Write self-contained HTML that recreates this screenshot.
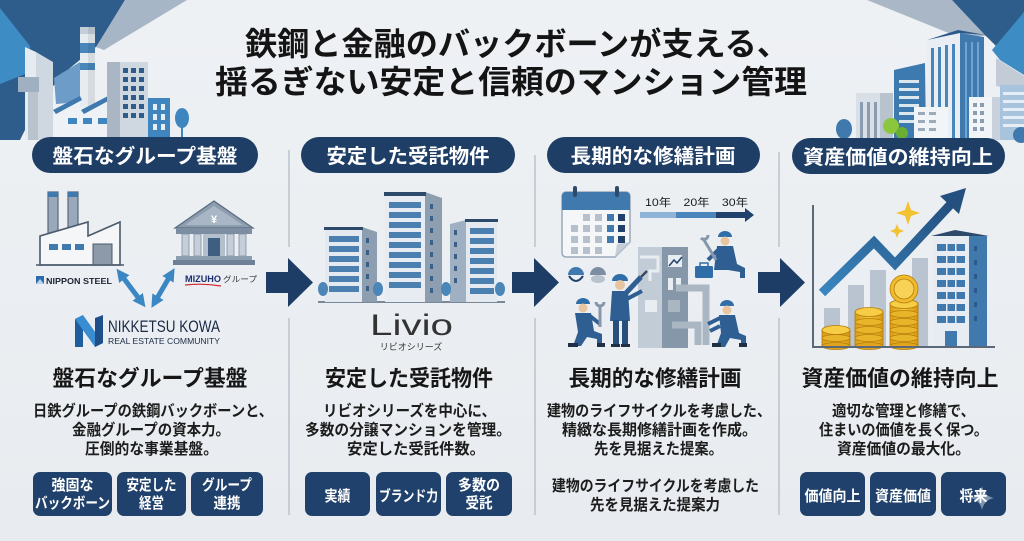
<!DOCTYPE html>
<html><head><meta charset="utf-8">
<style>
html,body{margin:0;padding:0;background:#edf0f4;width:1024px;height:541px;overflow:hidden;}
svg{display:block;}
text{font-family:"Liberation Sans","Noto Sans CJK JP",sans-serif;}
</style></head><body>
<svg width="1024" height="541" viewBox="0 0 1024 541" xmlns="http://www.w3.org/2000/svg">
<defs>
<linearGradient id="bg" x1="0" y1="0" x2="0" y2="1"><stop offset="0" stop-color="#eef1f4"/><stop offset="1" stop-color="#e8ecf0"/></linearGradient>
<linearGradient id="zz" x1="0" y1="1" x2="1" y2="0"><stop offset="0" stop-color="#3a86c0"/><stop offset="1" stop-color="#24507f"/></linearGradient>
<linearGradient id="coin" x1="0" y1="0" x2="1" y2="0"><stop offset="0" stop-color="#d99a12"/><stop offset=".5" stop-color="#f6cd45"/><stop offset="1" stop-color="#d5940e"/></linearGradient>
<marker id="ah" viewBox="0 0 10 10" refX="3" refY="5" markerWidth="2.6" markerHeight="2.6" orient="auto-start-reverse"><path d="M0,0 L10,5 L0,10 z" fill="#3b87c3"/></marker>
</defs>
<rect width="1024" height="541" fill="url(#bg)"/>

<!-- ===== top-left decoration ===== -->
<polygon points="0,0 125,0 97,46 70,68 40,100 20,140 0,140" fill="#2e5d8c"/>
<polygon points="0,8 30,46 30,72 0,84" fill="#3d8cc4"/>
<polygon points="125,0 187,0 104,50 96,47" fill="#a7b6c6"/>
<polygon points="54,78 80,62 80,102 56,104" fill="#6d9cc8"/>
<polygon points="25,47 36,52 36,140 25,140" fill="#e6ebf0"/>
<polygon points="36,52 53,62 53,140 36,140" fill="#cfd7e0"/>
<rect x="18" y="77" width="21" height="15" fill="#9fb0c2"/>
<rect x="28" y="92" width="10" height="48" fill="#b8c3ce"/>
<!-- chimney -->
<rect x="80" y="27" width="15" height="80" fill="#e7ecf1"/>
<rect x="80" y="27" width="15" height="7" fill="#c4ced8"/>
<rect x="80" y="43" width="15" height="10" fill="#4a86bc"/>
<rect x="80" y="63" width="15" height="7" fill="#4a86bc"/>
<rect x="88" y="27" width="7" height="80" fill="#000" opacity=".07"/>
<!-- factory -->
<polygon points="54,140 54,110 80,97 80,110 108,97 108,140" fill="#eef2f6"/>
<polygon points="53,110 80,96 82,100 56,114" fill="#3f79ad"/>
<polygon points="81,110 108,96 110,100 84,114" fill="#3f79ad"/>
<rect x="68" y="118" width="9" height="6" fill="#3f86c0"/>
<rect x="83" y="118" width="9" height="6" fill="#3f86c0"/>
<rect x="98" y="118" width="9" height="6" fill="#3f86c0"/>
<!-- grey tower -->
<rect x="107" y="62" width="14" height="78" fill="#aab6c3"/>
<rect x="120" y="62" width="28" height="78" fill="#cfd7e0"/>
<g fill="#2e5d8c">
<rect x="123" y="68" width="5" height="5"/><rect x="131" y="68" width="5" height="5"/><rect x="139" y="68" width="5" height="5"/>
<rect x="123" y="77" width="5" height="5"/><rect x="131" y="77" width="5" height="5"/><rect x="139" y="77" width="5" height="5"/>
<rect x="123" y="86" width="5" height="5"/><rect x="131" y="86" width="5" height="5"/><rect x="139" y="86" width="5" height="5"/>
<rect x="123" y="95" width="5" height="5"/><rect x="131" y="95" width="5" height="5"/><rect x="139" y="95" width="5" height="5"/>
<rect x="123" y="104" width="5" height="5"/><rect x="131" y="104" width="5" height="5"/><rect x="139" y="104" width="5" height="5"/>
<rect x="123" y="113" width="5" height="5"/><rect x="131" y="113" width="5" height="5"/><rect x="139" y="113" width="5" height="5"/>
</g>
<rect x="148" y="98" width="22" height="42" fill="#3f86c0"/>
<g fill="#e8eef4">
<rect x="153" y="104" width="4" height="6"/><rect x="161" y="104" width="4" height="6"/>
<rect x="153" y="114" width="4" height="6"/><rect x="161" y="114" width="4" height="6"/>
<rect x="153" y="124" width="4" height="6"/><rect x="161" y="124" width="4" height="6"/>
</g>
<rect x="181" y="124" width="2" height="16" fill="#3f86c0"/>
<ellipse cx="182" cy="118" rx="7" ry="10" fill="#3f86c0"/>

<!-- ===== top-right decoration ===== -->
<polygon points="867,0 952,0 990,36 956,36" fill="#a9b7c6"/>
<polygon points="952,0 1024,0 1024,12 1000,50 985,35" fill="#2e5d8c"/>
<polygon points="1024,12 1024,75 1000,60 992,50" fill="#3d8cc4"/>
<polygon points="996,58 1024,76 1024,92 996,86" fill="#c3ccd6"/>
<!-- grey building -->
<rect x="856" y="93" width="37" height="47" fill="#d9dfe6"/>
<rect x="880" y="93" width="13" height="47" fill="#b9c3ce"/>
<g fill="#8b9cb0"><rect x="860" y="102" width="3" height="38"/><rect x="867" y="102" width="3" height="38"/><rect x="874" y="102" width="3" height="38"/></g>
<!-- blue building -->
<polygon points="894,70 925,63 926,140 894,140" fill="#3d7ab0"/>
<g fill="#dde6ef"><rect x="899" y="80" width="20" height="3"/><rect x="899" y="88" width="20" height="3"/><rect x="899" y="96" width="20" height="3"/><rect x="899" y="104" width="20" height="3"/><rect x="899" y="112" width="20" height="3"/><rect x="899" y="120" width="20" height="3"/></g>
<!-- tall building -->
<polygon points="927,40 960,33 960,140 927,140" fill="#e8eef4"/>
<polygon points="960,33 984,37 984,140 960,140" fill="#3f79ad"/>
<polygon points="927,40 958,30 986,35 960,33" fill="#2b5a8a"/>
<g fill="#4a86bc"><rect x="931" y="48" width="3" height="92"/><rect x="938" y="47" width="3" height="93"/><rect x="945" y="45" width="3" height="95"/><rect x="952" y="44" width="3" height="96"/></g>
<g fill="#6fa3d2"><rect x="965" y="42" width="2" height="98"/><rect x="971" y="42" width="2" height="98"/><rect x="977" y="42" width="2" height="98"/></g>
<!-- white building front -->
<rect x="914" y="107" width="34" height="33" fill="#f2f5f8"/>
<g fill="#9aabbd"><rect x="918" y="112" width="7" height="3"/><rect x="929" y="112" width="7" height="3"/><rect x="918" y="120" width="7" height="3"/><rect x="929" y="120" width="7" height="3"/><rect x="918" y="128" width="7" height="3"/><rect x="929" y="128" width="7" height="3"/></g>
<rect x="969" y="97" width="31" height="43" fill="#f2f5f8"/>
<rect x="992" y="97" width="8" height="43" fill="#c9d2dc"/>
<g fill="#8b9cb0"><rect x="973" y="103" width="4" height="4"/><rect x="980" y="103" width="4" height="4"/><rect x="973" y="111" width="4" height="4"/><rect x="980" y="111" width="4" height="4"/><rect x="973" y="119" width="4" height="4"/><rect x="980" y="119" width="4" height="4"/><rect x="973" y="127" width="4" height="4"/><rect x="980" y="127" width="4" height="4"/></g>
<rect x="1000" y="85" width="24" height="55" fill="#a8c3dc"/>
<g fill="#e6edf4"><rect x="1003" y="92" width="21" height="3"/><rect x="1003" y="100" width="21" height="3"/><rect x="1003" y="108" width="21" height="3"/><rect x="1003" y="116" width="21" height="3"/><rect x="1003" y="124" width="21" height="3"/></g>
<ellipse cx="844" cy="129" rx="8" ry="10" fill="#3f79ad"/>
<circle cx="891" cy="126" r="8" fill="#8cc63f"/>
<circle cx="902" cy="133" r="6" fill="#6aae34"/>
<circle cx="1021" cy="135" r="8" fill="#3f79ad"/>

<!-- ===== title ===== -->
<text x="245" y="55" font-size="32" font-weight="700" fill="#141414" textLength="544" lengthAdjust="spacingAndGlyphs">鉄鋼と金融のバックボーンが支える、</text>
<text x="215" y="93" font-size="32" font-weight="700" fill="#141414" textLength="592" lengthAdjust="spacingAndGlyphs">揺るぎない安定と信頼のマンション管理</text>

<!-- ===== pills ===== -->
<g fill="#1f3e66">
<rect x="32" y="137" width="226" height="36" rx="18"/>
<rect x="301" y="137" width="214" height="36" rx="18"/>
<rect x="547" y="137" width="213" height="36" rx="18"/>
<rect x="792" y="138" width="213" height="36" rx="18"/>
</g>
<g fill="#ffffff" font-size="20" font-weight="700" text-anchor="middle">
<text x="145" y="163" textLength="185" lengthAdjust="spacingAndGlyphs">盤石なグループ基盤</text>
<text x="408" y="163" textLength="163" lengthAdjust="spacingAndGlyphs">安定した受託物件</text>
<text x="653" y="163" textLength="165" lengthAdjust="spacingAndGlyphs">長期的な修繕計画</text>
<text x="898" y="164" textLength="190" lengthAdjust="spacingAndGlyphs">資産価値の維持向上</text>
</g>

<!-- ===== separators ===== -->
<g stroke="#b9c3cd" stroke-width="1.5">
<line x1="289" y1="150" x2="289" y2="247"/><line x1="289" y1="318" x2="289" y2="515"/>
<line x1="535" y1="155" x2="535" y2="247"/><line x1="535" y1="318" x2="535" y2="515"/>
<line x1="779" y1="152" x2="779" y2="247"/><line x1="779" y1="318" x2="779" y2="515"/>
</g>

<!-- ===== big arrows ===== -->
<g fill="#1e3d66">
<polygon points="266,272 288,272 288,258 313,282.5 288,307 288,293 266,293"/>
<polygon points="512,272 534,272 534,258 559,282.5 534,307 534,293 512,293"/>
<polygon points="758,272 780,272 780,258 805,282.5 780,307 780,293 758,293"/>
</g>

<!-- ===== column 1 icons ===== -->
<!-- factory -->
<rect x="48" y="192" width="10" height="42" fill="#9aa9b9" stroke="#56667a" stroke-width="1.2"/>
<rect x="68" y="192" width="10" height="42" fill="#9aa9b9" stroke="#56667a" stroke-width="1.2"/>
<rect x="48" y="192" width="10" height="5" fill="#3f79ad"/>
<rect x="68" y="192" width="10" height="5" fill="#3f79ad"/>
<polygon points="40,265 40,236 88,222 88,236 120,222 120,265" fill="#f4f6f8" stroke="#4a5a6c" stroke-width="1.6"/>
<rect x="49" y="244" width="9" height="6" fill="#3f79ad"/>
<rect x="62" y="244" width="9" height="6" fill="#3f79ad"/>
<rect x="75" y="244" width="9" height="6" fill="#3f79ad"/>
<rect x="93" y="244" width="19" height="21" fill="#8c9aaa" stroke="#4a5a6c" stroke-width="1"/>
<line x1="36" y1="265" x2="124" y2="265" stroke="#4a5a6c" stroke-width="1.6"/>
<polygon points="36,276 44,276 44,284 36,284" fill="#2b6cb0"/>
<polygon points="36,284 40,279 44,284" fill="#ffffff" opacity=".7"/>
<text x="46" y="284" font-size="8.5" font-weight="700" fill="#1c2433" textLength="66" lengthAdjust="spacingAndGlyphs">NIPPON STEEL</text>
<!-- bank -->
<polygon points="175,228 214,201 253,228" fill="#8d9db0" stroke="#5a6a7e" stroke-width="1.2"/>
<polygon points="185,225 214,206 243,225" fill="#a9b6c5"/>
<text x="214" y="223" font-size="11" font-weight="700" fill="#ffffff" text-anchor="middle">¥</text>
<rect x="176" y="228" width="76" height="6" fill="#7d8ea3"/>
<g fill="#c6cfd9" stroke="#7d8ea3" stroke-width=".8">
<rect x="182" y="234" width="7" height="22"/><rect x="194" y="234" width="7" height="22"/>
<rect x="227" y="234" width="7" height="22"/><rect x="239" y="234" width="7" height="22"/>
</g>
<rect x="203" y="234" width="22" height="22" fill="#b3bfcc"/>
<rect x="208" y="238" width="12" height="18" fill="#3f5f80"/>
<rect x="176" y="256" width="76" height="4" fill="#8d9db0"/>
<rect x="173" y="260" width="82" height="5" fill="#6e8096"/>
<text x="185" y="282" font-size="9" font-weight="700" fill="#1c2f6e" textLength="36" lengthAdjust="spacingAndGlyphs">MIZUHO</text>
<text x="223" y="282" font-size="8" fill="#333" textLength="34" lengthAdjust="spacingAndGlyphs">グループ</text>
<path d="M185,285 Q203,283 221,286" stroke="#d0262e" stroke-width="1.2" fill="none"/>
<!-- double arrows -->
<line x1="122" y1="276" x2="140" y2="300" stroke="#3b87c3" stroke-width="5" marker-start="url(#ah)" marker-end="url(#ah)"/>
<line x1="170" y1="276" x2="156" y2="300" stroke="#3b87c3" stroke-width="5" marker-start="url(#ah)" marker-end="url(#ah)"/>
<!-- NK logo -->
<polygon points="75,319 83,315 83,347 75,347" fill="#1f5e9e"/>
<polygon points="75,319 83,315 103,343 95,347" fill="#3a8cd0"/>
<polygon points="95,318 103,315 103,343 95,347" fill="#1f4f88"/>
<text x="108" y="332" font-size="17" fill="#1a2a44" textLength="112" lengthAdjust="spacingAndGlyphs">NIKKETSU KOWA</text>
<text x="108" y="344" font-size="8.5" fill="#1a2a44" textLength="112" lengthAdjust="spacingAndGlyphs">REAL ESTATE COMMUNITY</text>

<!-- ===== column 2 icons ===== -->
<line x1="318" y1="302" x2="505" y2="302" stroke="#55677a" stroke-width="1.6"/>
<!-- left building -->
<polygon points="325,230 362,227 362,302 325,302" fill="#e3e9ef"/>
<polygon points="362,227 377,232 377,302 362,302" fill="#8d9eb1"/>
<rect x="324" y="227" width="39" height="3" fill="#2e4a6a"/>
<g fill="#4a7fb0">
<rect x="329" y="236" width="30" height="6"/><rect x="329" y="246" width="30" height="6"/><rect x="329" y="256" width="30" height="6"/><rect x="329" y="266" width="30" height="6"/><rect x="329" y="276" width="30" height="6"/><rect x="329" y="286" width="30" height="6"/>
</g>
<g fill="#3b5f86"><rect x="366" y="238" width="3" height="5"/><rect x="366" y="250" width="3" height="5"/><rect x="366" y="262" width="3" height="5"/><rect x="366" y="274" width="3" height="5"/><rect x="366" y="286" width="3" height="5"/></g>
<!-- middle tall -->
<polygon points="385,196 425,192 425,302 385,302" fill="#e6ecf2"/>
<polygon points="425,192 442,198 442,302 425,302" fill="#8d9eb1"/>
<rect x="384" y="192" width="42" height="4" fill="#2e4a6a"/>
<g fill="#4a7fb0">
<rect x="389" y="202" width="32" height="6"/><rect x="389" y="212" width="32" height="6"/><rect x="389" y="222" width="32" height="6"/><rect x="389" y="232" width="32" height="6"/><rect x="389" y="242" width="32" height="6"/><rect x="389" y="252" width="32" height="6"/><rect x="389" y="262" width="32" height="6"/><rect x="389" y="272" width="32" height="6"/><rect x="389" y="282" width="32" height="6"/>
</g>
<g fill="#3b5f86"><rect x="430" y="204" width="3" height="5"/><rect x="430" y="216" width="3" height="5"/><rect x="430" y="228" width="3" height="5"/><rect x="430" y="240" width="3" height="5"/><rect x="430" y="252" width="3" height="5"/><rect x="430" y="264" width="3" height="5"/><rect x="430" y="276" width="3" height="5"/><rect x="430" y="288" width="3" height="5"/></g>
<!-- right building -->
<polygon points="450,224 466,220 466,302 450,302" fill="#9fb0c2"/>
<polygon points="466,220 497,223 497,302 466,302" fill="#e3e9ef"/>
<rect x="465" y="219" width="33" height="3" fill="#2e4a6a"/>
<g fill="#4a7fb0">
<rect x="470" y="228" width="24" height="6"/><rect x="470" y="238" width="24" height="6"/><rect x="470" y="248" width="24" height="6"/><rect x="470" y="258" width="24" height="6"/><rect x="470" y="268" width="24" height="6"/><rect x="470" y="278" width="24" height="6"/><rect x="470" y="288" width="24" height="6"/>
</g>
<g fill="#3b5f86"><rect x="454" y="230" width="3" height="5"/><rect x="454" y="242" width="3" height="5"/><rect x="454" y="254" width="3" height="5"/><rect x="454" y="266" width="3" height="5"/><rect x="454" y="278" width="3" height="5"/></g>
<g fill="#4a86b8">
<ellipse cx="323" cy="289" rx="5" ry="7"/><ellipse cx="378" cy="289" rx="5" ry="7"/><ellipse cx="446" cy="289" rx="5" ry="7"/><ellipse cx="500" cy="289" rx="5" ry="7"/>
</g>
<text x="370" y="335" font-size="30" fill="#333333" textLength="83" lengthAdjust="spacingAndGlyphs">Livio</text>
<text x="411" y="350" font-size="9" fill="#333333" text-anchor="middle">リビオシリーズ</text>

<!-- ===== column 3 icons ===== -->
<!-- calendar -->
<path d="M562,196 a4,4 0 0 1 4,-4 h60 a4,4 0 0 1 4,4 v46 l-15,15 h-49 a4,4 0 0 1 -4,-4 z" fill="#f4f6f8" stroke="#9aa9b9" stroke-width="1.5"/>
<path d="M562,196 a4,4 0 0 1 4,-4 h60 a4,4 0 0 1 4,4 v14 h-68 z" fill="#3f79ad"/>
<polygon points="615,257 630,242 617,244" fill="#c5ced8"/>
<rect x="573" y="186" width="4" height="11" rx="2" fill="#2e4a6a"/>
<rect x="615" y="186" width="4" height="11" rx="2" fill="#2e4a6a"/>
<g fill="#b5c0cc">
<rect x="583" y="214" width="7" height="7"/><rect x="595" y="214" width="7" height="7"/>
<rect x="571" y="225" width="7" height="7"/><rect x="583" y="225" width="7" height="7"/><rect x="595" y="225" width="7" height="7"/>
<rect x="571" y="236" width="7" height="7"/><rect x="583" y="236" width="7" height="7"/><rect x="595" y="236" width="7" height="7"/>
<rect x="571" y="247" width="7" height="7"/><rect x="583" y="247" width="7" height="7"/><rect x="595" y="247" width="7" height="7"/>
</g>
<g fill="#3f79ad"><rect x="607" y="214" width="7" height="7"/><rect x="607" y="225" width="7" height="7"/><rect x="607" y="236" width="7" height="7"/></g>
<g fill="#1f416b"><rect x="618" y="214" width="7" height="7"/><rect x="618" y="225" width="7" height="7"/><rect x="618" y="236" width="7" height="7"/></g>
<text x="645" y="206" font-size="11" fill="#1a1a1a" textLength="103" lengthAdjust="spacingAndGlyphs">10年　20年　30年</text>
<rect x="640" y="212" width="36" height="6" fill="#8fb3d6"/>
<rect x="676" y="212" width="40" height="6" fill="#4a86bc"/>
<rect x="716" y="212" width="30" height="6" fill="#1f416b"/>
<polygon points="745,208 754,215 745,222" fill="#1f416b"/>
<!-- machine building -->
<rect x="638" y="247" width="24" height="101" fill="#c2ccd6"/>
<rect x="662" y="247" width="26" height="101" fill="#8797aa"/>
<path d="M640,257 h18 v14 h-8 v10" stroke="#e8edf2" stroke-width="3" fill="none"/>
<rect x="668" y="255" width="14" height="12" fill="#e8edf2"/>
<path d="M669,266 l5,-6 l3,3 l5,-6" stroke="#1f416b" stroke-width="1.5" fill="none"/>
<rect x="668" y="278" width="5" height="12" fill="#e8edf2"/><rect x="676" y="278" width="5" height="12" fill="#e8edf2"/>
<rect x="645" y="300" width="12" height="12" fill="#e8edf2"/>
<rect x="668" y="300" width="12" height="12" fill="#aab6c2"/>
<path d="M676,288 h30 v57" stroke="#aab6c2" stroke-width="7" fill="none"/>
<path d="M672,325 h26 v20" stroke="#aab6c2" stroke-width="7" fill="none"/>
<!-- helmets -->
<path d="M568,275 a8,8 0 0 1 16,0 z" fill="#3f79ad"/><path d="M569,276 q7,10 14,0" stroke="#1f416b" stroke-width="2" fill="none"/>
<path d="M590,275 a8,8 0 0 1 16,0 z" fill="#7d8ea3"/><ellipse cx="598" cy="279" rx="7" ry="4" fill="#b9c3ce"/>
<!-- toolbox -->
<rect x="695" y="266" width="18" height="12" rx="1.5" fill="#2f6ea8"/>
<path d="M700,266 v-3 h8 v3" stroke="#2f6ea8" stroke-width="1.5" fill="none"/>
<!-- worker kneeling left -->
<g>
<path d="M576,304 a7,6 0 0 1 14,0 z" fill="#2f6ea8"/>
<circle cx="583" cy="308" r="4.5" fill="#e8c4a0"/>
<path d="M575,313 h16 l3,18 l8,3 v12 h-5 v-7 l-10,-2 l-6,9 h-8 l5,-14 z" fill="#2f5f92"/>
<path d="M590,316 l10,8" stroke="#2f5f92" stroke-width="4"/>
<path d="M600,305 v22" stroke="#8797aa" stroke-width="3"/>
<path d="M596,302 a4,4 0 0 0 8,0" stroke="#8797aa" stroke-width="3" fill="none"/>
<rect x="568" y="343" width="10" height="4" fill="#1f2f45"/><rect x="597" y="343" width="8" height="4" fill="#1f2f45"/>
</g>
<!-- worker standing -->
<g>
<path d="M612,281 a8,7 0 0 1 16,0 z" fill="#2f6ea8"/>
<circle cx="620" cy="285" r="5" fill="#e8c4a0"/>
<path d="M612,291 h16 l2,30 h-20 z" fill="#2f5f92"/>
<path d="M626,293 l15,-16" stroke="#2f5f92" stroke-width="5"/>
<path d="M625,300 l17,-9" stroke="#2f5f92" stroke-width="4"/>
<rect x="613" y="320" width="6" height="25" fill="#284f7c"/><rect x="622" y="320" width="6" height="25" fill="#284f7c"/>
<rect x="611" y="344" width="9" height="3" fill="#1f2f45"/><rect x="621" y="344" width="9" height="3" fill="#1f2f45"/>
<path d="M641,277 l6,-6" stroke="#3b4a5c" stroke-width="2.5"/>
</g>
<!-- worker top right -->
<g>
<path d="M718,237 a7,6 0 0 1 14,0 z" fill="#2f6ea8"/>
<circle cx="725" cy="241" r="4.5" fill="#e8c4a0"/>
<path d="M717,246 h16 l4,18 l8,4 v10 h-5 v-6 l-12,-2 h-14 z" fill="#2f5f92"/>
<path d="M718,250 l-10,10" stroke="#2f5f92" stroke-width="4"/>
<path d="M704,240 l12,20" stroke="#8797aa" stroke-width="3"/>
<path d="M701,238 a4,4 0 0 0 7,-3" stroke="#8797aa" stroke-width="3" fill="none"/>
</g>
<!-- worker bottom right -->
<g>
<path d="M720,306 a7,6 0 0 1 14,0 z" fill="#2f6ea8"/>
<circle cx="727" cy="310" r="4.5" fill="#e8c4a0"/>
<path d="M719,315 h16 l4,18 l7,3 v11 h-5 v-7 l-11,-2 l-5,9 h-9 l5,-14 z" fill="#2f5f92"/>
<path d="M720,318 l-12,6" stroke="#2f5f92" stroke-width="4"/>
<path d="M720,326 l-10,5" stroke="#2f5f92" stroke-width="4"/>
<rect x="712" y="343" width="9" height="4" fill="#1f2f45"/><rect x="739" y="343" width="8" height="4" fill="#1f2f45"/>
</g>

<!-- ===== column 4 icons ===== -->
<g fill="#b9c4d0">
<rect x="824" y="308" width="16" height="39"/>
<rect x="848" y="285" width="16" height="62"/>
<rect x="870" y="270" width="16" height="77"/>
<rect x="912" y="258" width="16" height="89"/>
</g>
<polyline points="822,293 874,242 895,264 950,205" fill="none" stroke="url(#zz)" stroke-width="9" stroke-linejoin="miter"/>
<polygon points="966,188 959,214 940,196" fill="#24507f"/>
<path d="M908,201 l3,9 l9,3 l-9,3 l-3,9 l-3,-9 l-9,-3 l9,-3 z" fill="#f2c230"/>
<path d="M897,224 l2,5 l5,2 l-5,2 l-2,5 l-2,-5 l-5,-2 l5,-2 z" fill="#f2c230"/>
<!-- building -->
<rect x="933" y="236" width="36" height="111" fill="#e6ecf2"/>
<rect x="969" y="236" width="18" height="111" fill="#3f79ad"/>
<polygon points="931,236 955,230 989,236" fill="#2e4a6a"/>
<g fill="#3f79ad">
<rect x="937" y="244" width="28" height="7"/><rect x="937" y="256" width="28" height="7"/><rect x="937" y="268" width="28" height="7"/><rect x="937" y="280" width="28" height="7"/><rect x="937" y="292" width="28" height="7"/><rect x="937" y="304" width="28" height="7"/><rect x="937" y="316" width="28" height="7"/>
</g>
<g fill="#e6ecf2"><rect x="946" y="244" width="1.5" height="80"/><rect x="955" y="244" width="1.5" height="80"/></g>
<g fill="#2b5a8a"><rect x="974" y="246" width="3" height="5"/><rect x="974" y="260" width="3" height="5"/><rect x="974" y="274" width="3" height="5"/><rect x="974" y="288" width="3" height="5"/><rect x="974" y="302" width="3" height="5"/><rect x="974" y="316" width="3" height="5"/></g>
<rect x="945" y="331" width="12" height="16" fill="#3f79ad"/>
<!-- coins -->
<g stroke="#b57c0a" stroke-width=".8">
<rect x="822" y="330" width="28" height="16" fill="url(#coin)"/>
<ellipse cx="836" cy="346" rx="14" ry="3.5" fill="#e0a51c"/>
<ellipse cx="836" cy="338" rx="14" ry="3.5" fill="#e8b42a"/>
<ellipse cx="836" cy="330" rx="14" ry="4.5" fill="#f6cd45"/>
<rect x="855" y="312" width="28" height="34" fill="url(#coin)"/>
<ellipse cx="869" cy="346" rx="14" ry="3.5" fill="#e0a51c"/>
<ellipse cx="869" cy="338" rx="14" ry="3.5" fill="#e8b42a"/>
<ellipse cx="869" cy="330" rx="14" ry="3.5" fill="#e8b42a"/>
<ellipse cx="869" cy="322" rx="14" ry="3.5" fill="#e8b42a"/>
<ellipse cx="869" cy="312" rx="14" ry="4.5" fill="#f6cd45"/>
<rect x="890" y="303" width="28" height="43" fill="url(#coin)"/>
<ellipse cx="904" cy="346" rx="14" ry="3.5" fill="#e0a51c"/>
<ellipse cx="904" cy="338" rx="14" ry="3.5" fill="#e8b42a"/>
<ellipse cx="904" cy="330" rx="14" ry="3.5" fill="#e8b42a"/>
<ellipse cx="904" cy="322" rx="14" ry="3.5" fill="#e8b42a"/>
<ellipse cx="904" cy="314" rx="14" ry="3.5" fill="#e8b42a"/>
<ellipse cx="904" cy="304" rx="14" ry="4.5" fill="#f6cd45"/>
<circle cx="904" cy="289" r="14" fill="#f0bb2c"/>
<circle cx="904" cy="289" r="10" fill="#f7d257"/>
</g>
<path d="M813,205 V347 H995" stroke="#5a6878" stroke-width="2" fill="none"/>

<!-- ===== bottom titles ===== -->
<g font-size="22" font-weight="700" fill="#161616" text-anchor="middle">
<text x="150" y="386" textLength="195" lengthAdjust="spacingAndGlyphs">盤石なグループ基盤</text>
<text x="409" y="386" textLength="168" lengthAdjust="spacingAndGlyphs">安定した受託物件</text>
<text x="655" y="386" textLength="173" lengthAdjust="spacingAndGlyphs">長期的な修繕計画</text>
<text x="900" y="386" textLength="197" lengthAdjust="spacingAndGlyphs">資産価値の維持向上</text>
</g>

<!-- ===== body text ===== -->
<g font-size="15.5" font-weight="700" fill="#1c1c1c">
<text x="33" y="416" textLength="240" lengthAdjust="spacingAndGlyphs">日鉄グループの鉄鋼バックボーンと、</text>
<text x="72" y="435" textLength="158" lengthAdjust="spacingAndGlyphs">金融グループの資本力。</text>
<text x="85" y="454" textLength="133" lengthAdjust="spacingAndGlyphs">圧倒的な事業基盤。</text>

<text x="323" y="416" textLength="173" lengthAdjust="spacingAndGlyphs">リビオシリーズを中心に、</text>
<text x="305" y="435" textLength="206" lengthAdjust="spacingAndGlyphs">多数の分譲マンションを管理。</text>
<text x="347" y="454" textLength="138" lengthAdjust="spacingAndGlyphs">安定した受託件数。</text>

<text x="547" y="416" textLength="224" lengthAdjust="spacingAndGlyphs">建物のライフサイクルを考慮した、</text>
<text x="562" y="435" textLength="195" lengthAdjust="spacingAndGlyphs">精緻な長期修繕計画を作成。</text>
<text x="594" y="454" textLength="129" lengthAdjust="spacingAndGlyphs">先を見据えた提案。</text>
<text x="552" y="491" textLength="207" lengthAdjust="spacingAndGlyphs">建物のライフサイクルを考慮した</text>
<text x="590" y="510" textLength="130" lengthAdjust="spacingAndGlyphs">先を見据えた提案力</text>

<text x="832" y="416" textLength="143" lengthAdjust="spacingAndGlyphs">適切な管理と修繕で、</text>
<text x="819" y="435" textLength="169" lengthAdjust="spacingAndGlyphs">住まいの価値を長く保つ。</text>
<text x="837" y="454" textLength="133" lengthAdjust="spacingAndGlyphs">資産価値の最大化。</text>
</g>

<!-- ===== tag boxes ===== -->
<g fill="#1f416b">
<rect x="33" y="472" width="79" height="44" rx="7"/>
<rect x="117" y="472" width="69" height="44" rx="7"/>
<rect x="191" y="472" width="72" height="44" rx="7"/>
<rect x="305" y="472" width="65" height="44" rx="7"/>
<rect x="376" y="472" width="65" height="44" rx="7"/>
<rect x="446" y="472" width="66" height="44" rx="7"/>
<rect x="800" y="472" width="65" height="44" rx="7"/>
<rect x="870" y="472" width="66" height="44" rx="7"/>
<rect x="941" y="472" width="65" height="44" rx="7"/>
</g>
<path d="M982,486 q2,10 12,12 q-10,2 -12,12 q-2,-10 -12,-12 q10,-2 12,-12 z" fill="#8fa3bb" opacity=".85"/>
<g font-size="15" font-weight="700" fill="#ffffff" text-anchor="middle">
<text x="72.5" y="490" textLength="42" lengthAdjust="spacingAndGlyphs">強固な</text>
<text x="72.5" y="508" textLength="75" lengthAdjust="spacingAndGlyphs">バックボーン</text>
<text x="151.5" y="490" textLength="50" lengthAdjust="spacingAndGlyphs">安定した</text>
<text x="151.5" y="508" textLength="25" lengthAdjust="spacingAndGlyphs">経営</text>
<text x="227" y="490" textLength="50" lengthAdjust="spacingAndGlyphs">グループ</text>
<text x="227" y="508" textLength="27" lengthAdjust="spacingAndGlyphs">連携</text>

<text x="337.5" y="501" textLength="26" lengthAdjust="spacingAndGlyphs">実績</text>
<text x="408.5" y="501" textLength="59" lengthAdjust="spacingAndGlyphs">ブランド力</text>
<text x="479" y="490" textLength="42" lengthAdjust="spacingAndGlyphs">多数の</text>
<text x="479" y="508" textLength="27" lengthAdjust="spacingAndGlyphs">受託</text>

<text x="832.5" y="501" textLength="56" lengthAdjust="spacingAndGlyphs">価値向上</text>
<text x="903" y="501" textLength="56" lengthAdjust="spacingAndGlyphs">資産価値</text>
<text x="973.5" y="501" textLength="28" lengthAdjust="spacingAndGlyphs">将来</text>
</g>
</svg>
</body></html>
